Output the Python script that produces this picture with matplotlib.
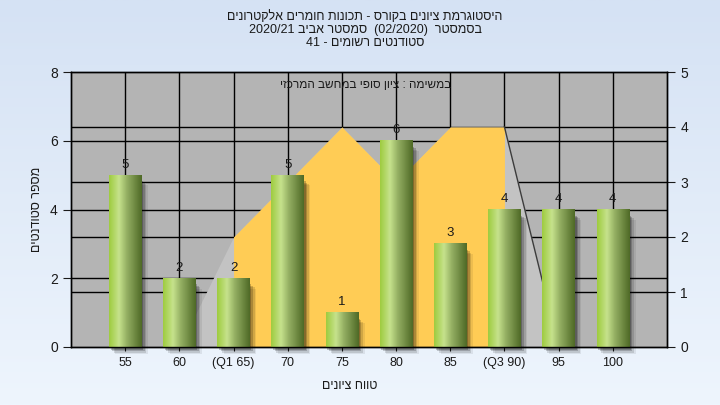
import numpy as np
import matplotlib
matplotlib.use("Agg")
import matplotlib.pyplot as plt
from matplotlib.colors import LinearSegmentedColormap
from matplotlib.patches import Rectangle

plt.rcParams['font.family'] = ['Liberation Sans', 'DejaVu Sans']

categories = ["55", "60", "(Q1 65)", "70", "75", "80", "85", "(Q3 90)", "95", "100"]
students = [5, 2, 2, 5, 1, 6, 3, 4, 4, 4]
trend = [0, 0, 2, 3, 4, 3, 4, 4, 0, 0]
q1_idx, q3_idx = 2, 7

title_lines = ["היסטוגרמת ציונים בקורס - תכונות חומרים אלקטרונים",
               "בסמסטר  (02/2020)  סמסטר אביב 2020/21",
               "סטודנטים רשומים - 41"]
inner_title = "במשימה : ציון סופי במחשב המרכזי"
xlabel = "טווח ציונים"
ylabel = "מספר סטודנטים"


def rtl(s):
    # matplotlib has no bidi support: build the visual order by hand
    out = []
    for t in reversed(s.split(" ")):
        if any('\u0590' <= c <= '\u05ff' for c in t):
            out.append(t[::-1])
        else:
            out.append(t)
    return " ".join(out)


def main():
    fig = plt.figure(figsize=(7.2, 4.05), dpi=100)

    # figure background gradient
    bg = fig.add_axes([0, 0, 1, 1], zorder=-10)
    bg_cmap = LinearSegmentedColormap.from_list("bg", ["#eef5fd", "#d5e2f4"])
    bg.imshow(np.linspace(0, 1, 256).reshape(-1, 1), cmap=bg_cmap, aspect='auto',
              origin='lower', extent=[0, 1, 0, 1])
    bg.set_axis_off()

    rect = [71 / 720, 58 / 405, 596 / 720, 275 / 405]
    ax2 = fig.add_axes(rect, zorder=1)
    ax = fig.add_axes(rect, zorder=2, sharex=ax2)
    ax.patch.set_visible(False)
    ax2.set_facecolor("#b4b4b4")

    x = np.arange(1, len(categories) + 1)

    # grid lines under the areas
    for xi in x:
        ax2.axvline(xi, color="black", lw=1, zorder=0.5)
    for v in [1, 2, 3, 4]:
        ax2.axhline(v, color="black", lw=1, zorder=0.5)
    for v in [2, 4, 6]:
        ax2.plot([0, 1], [v, v], color="black", lw=1, zorder=0.5,
                 transform=ax.get_yaxis_transform())

    # areas on the secondary axis
    ax2.fill_between(x, trend, color="#c3c3c3", lw=0, zorder=1)
    ax2.fill_between(x[q1_idx:q3_idx + 1], trend[q1_idx:q3_idx + 1],
                     color="#ffcc55", lw=0, zorder=2)
    ax2.plot(x[q3_idx:q3_idx + 2], trend[q3_idx:q3_idx + 2], color="#3c3c3c", lw=1, zorder=3)

    # bars with cylinder-like gradient and soft shadow
    bar_cmap = LinearSegmentedColormap.from_list(
        "bar", [(0, "#9fcc40"), (0.3, "#c6e28c"), (0.55, "#93ae62"), (1, "#4f6a27")])
    grad = np.linspace(0, 1, 64).reshape(1, -1)
    w = 0.6
    for xi, v in zip(x, students):
        for dx, dy, a in [(0.03, 0.08, 0.22), (0.06, 0.12, 0.18),
                          (0.09, 0.16, 0.12), (0.12, 0.2, 0.07)]:
            ax.add_patch(Rectangle((xi - w / 2 + dx, -dy), w, v - 0.1, color="black",
                                   alpha=a, lw=0, zorder=2, clip_on=False))
        ax.imshow(grad, cmap=bar_cmap, aspect='auto', extent=[xi - w / 2, xi + w / 2, 0, v],
                  zorder=3, interpolation='bilinear')
        ax.text(xi, v + 0.13, str(v), ha="center", va="bottom", fontsize=9.5,
                color="#1a1a1a", zorder=4)

    ax.set_xlim(0, len(categories) + 1)
    ax.set_ylim(0, 8)
    ax2.set_ylim(0, 5)
    ax.set_xticks(x, categories)
    ax.set_yticks([0, 2, 4, 6, 8])
    ax2.set_yticks([0, 1, 2, 3, 4, 5])
    ax2.yaxis.tick_right()
    ax2.tick_params(axis="x", labelbottom=False, length=0)
    ax.tick_params(axis="x", length=3, labelsize=9, pad=4, colors="#1a1a1a")
    ax.tick_params(axis="y", length=6, labelsize=10, colors="#1a1a1a")
    ax2.tick_params(axis="y", length=6, labelsize=10, colors="#1a1a1a")
    for a in (ax, ax2):
        for s in a.spines.values():
            s.set_color("black")
            s.set_linewidth(1)
    ax.spines["bottom"].set_zorder(5)

    ax.set_xlabel(rtl(xlabel), fontsize=9, labelpad=6, color="#1a1a1a")
    ax.xaxis.set_label_coords(0.468, -0.12)
    ax.set_ylabel(rtl(ylabel), fontsize=9, labelpad=5, color="#1a1a1a")
    ax.text(0.495, 0.953, rtl(inner_title), transform=ax.transAxes, ha="center",
            va="center", fontsize=8.5, color="#1a1a1a")

    for i, line in enumerate(title_lines):
        fig.text(0.507, 1 - (17 + 13 * i) / 405, rtl(line), ha="center", va="center",
                 fontsize=9, color="#1a1a1a")

    fig.savefig("out.png", dpi=100)


if __name__ == '__main__':
    main()
